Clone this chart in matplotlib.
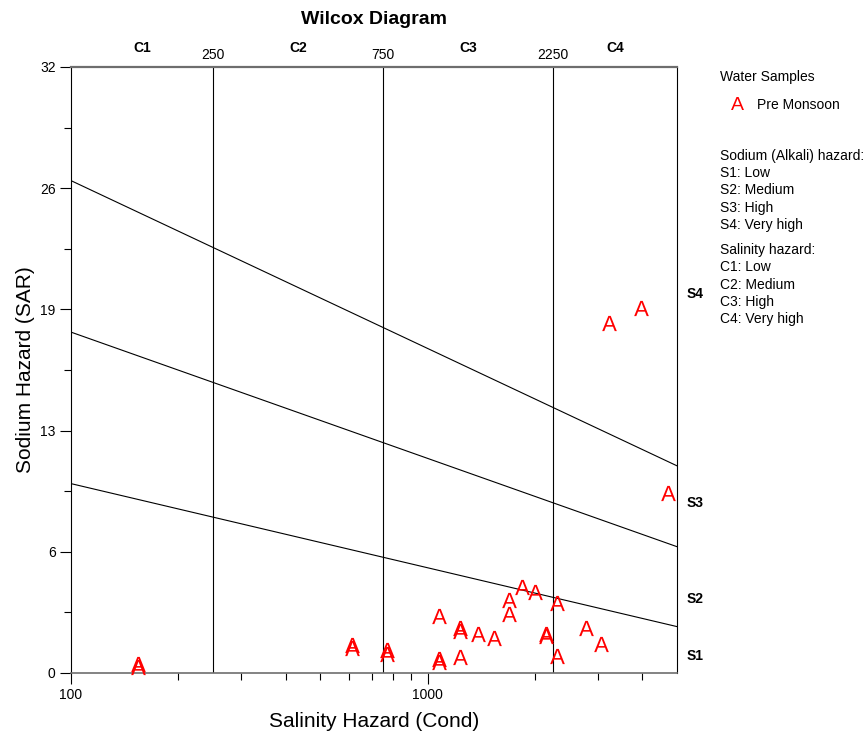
import matplotlib
matplotlib.use("Agg")
import matplotlib.pyplot as plt
import matplotlib.transforms as mtransforms
import numpy as np

plt.rcParams['font.family'] = ['Liberation Sans', 'DejaVu Sans']
plt.rcParams['mathtext.fontset'] = 'custom'
plt.rcParams['mathtext.sf'] = 'Liberation Sans'

# samples (conductivity, SAR)
cond = [154, 154, 612, 612, 768, 768, 1073, 1073, 1073, 1229, 1229, 1229,
        1380, 1531, 1686, 1686, 1834, 1994, 2141, 2141, 2298, 2298, 2771,
        3070, 3214, 3975, 4733]
sar = [0.3, 0.5, 1.5, 1.3, 1.2, 1.0, 3.0, 0.75, 0.6, 2.4, 2.2, 0.85,
       2.06, 1.85, 3.85, 3.12, 4.54, 4.28, 2.06, 1.95, 3.7, 0.9, 2.38,
       1.53, 18.48, 19.27, 9.5]

# salinity class boundaries and labels
cond_bounds = [250, 750, 2250]
c_labels = ['C1', 'C2', 'C3', 'C4']
c_label_x = [158, 433, 1299, 3354]

# sodium hazard boundary lines (SAR at cond=100 and cond=5000)
line_left = [10.0, 18.0, 26.0]
line_right = [2.45, 6.67, 10.94]
s_labels = ['S1', 'S2', 'S3', 'S4']
s_label_y = [0.9, 3.9, 9.0, 20.0]

yticks = [0, 6.4, 12.8, 19.2, 25.6, 32]
yticklabels = ['0', '6', '13', '19', '26', '32']

fig = plt.figure(figsize=(8.64, 7.34), dpi=100)
ax = fig.add_axes([71/864, 1-673/734, 606/864, 606/734])

ax.set_xscale('log')
ax.set_xlim(100, 5000)
ax.set_ylim(0, 32)

for b in cond_bounds:
    ax.axvline(b, color='black', lw=0.8)
for l, r in zip(line_left, line_right):
    ax.plot([100, 5000], [l, r], color='black', lw=0.8)

ax.scatter(cond, sar, marker=r'$\mathsf{A}$', s=120, color='red',
           linewidths=0, zorder=5, clip_on=False)

# ticks
ax.set_yticks(yticks)
ax.set_yticklabels(yticklabels)
ax.set_yticks([3.2, 9.6, 16, 22.4, 28.8], minor=True)
ax.set_xticks([100, 1000])
ax.set_xticklabels(['100', '1000'])
ax.set_xticks([200, 300, 400, 500, 600, 700, 800, 900, 2000, 3000, 4000], minor=True)
ax.xaxis.set_minor_formatter(matplotlib.ticker.NullFormatter())
ax.tick_params(which='major', direction='out', length=8, width=0.8, labelsize=10, pad=3)
ax.tick_params(which='minor', direction='out', length=5, width=0.8)
ax.tick_params(top=False, right=False)

for s in ['left', 'right']:
    ax.spines[s].set_linewidth(0.8)
    ax.spines[s].set_color('black')
ax.spines['top'].set_color('#6e6e6e')
ax.spines['top'].set_linewidth(1.6)
ax.spines['bottom'].set_color('#6e6e6e')
ax.spines['bottom'].set_linewidth(1.2)

ax.set_xlabel('Salinity Hazard (Cond)', fontsize=15, labelpad=7)
ax.set_ylabel('Sodium Hazard (SAR)', fontsize=15, labelpad=4)

fig.text(374/864, 1-20/734, 'Wilcox Diagram', ha='center', va='center',
         fontsize=14, fontweight='bold')

# top labels
top = mtransforms.blended_transform_factory(ax.transData, ax.transAxes)
for b in cond_bounds:
    ax.text(b, 1.02, str(b), transform=top, ha='center', va='center', fontsize=10)
for lab, x in zip(c_labels, c_label_x):
    ax.text(x, 1.032, lab, transform=top, ha='center', va='center',
            fontsize=10, fontweight='bold')

# right labels
right = mtransforms.blended_transform_factory(ax.transAxes, ax.transData)
for lab, y in zip(s_labels, s_label_y):
    ax.text(1.015, y, lab, transform=right, ha='left', va='center',
            fontsize=10, fontweight='bold')

# legend / notes
lx = 720/864
fig.text(lx, 1-77/734, 'Water Samples', ha='left', va='center', fontsize=10)
fig.text(737/864, 1-105/734, 'A', ha='center', va='center', fontsize=14, color='red')
fig.text(757/864, 1-105/734, 'Pre Monsoon', ha='left', va='center', fontsize=10)
notes = ['Sodium (Alkali) hazard:', 'S1: Low', 'S2: Medium', 'S3: High', 'S4: Very high']
for i, t in enumerate(notes):
    fig.text(lx, 1-(156+17.2*i)/734, t, ha='left', va='center', fontsize=10)
notes2 = ['Salinity hazard:', 'C1: Low', 'C2: Medium', 'C3: High', 'C4: Very high']
for i, t in enumerate(notes2):
    fig.text(lx, 1-(250+17.3*i)/734, t, ha='left', va='center', fontsize=10)

fig.savefig('out.png', dpi=100)
